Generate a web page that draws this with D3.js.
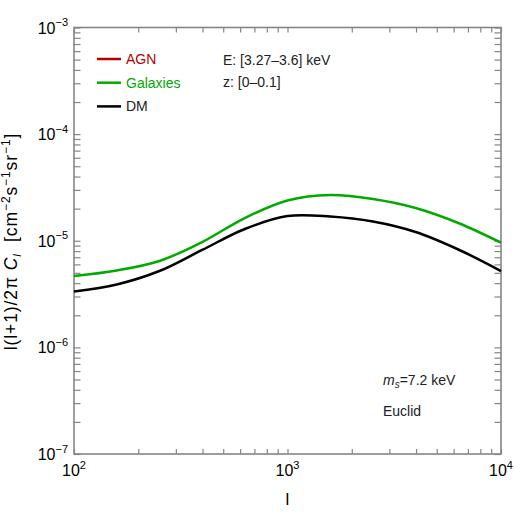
<!DOCTYPE html>
<html><head><meta charset="utf-8">
<script src="https://cdn.jsdelivr.net/npm/d3@7"></script>
<style>
body{margin:0;background:#fff;}
text{font-family:"Liberation Sans",Arial,Helvetica,sans-serif;}
</style></head>
<body><svg id="chart" width="515" height="515"></svg>
<script>
// ---- data ----
const ell = [100, 158.5, 251.2, 398.1, 631, 1000, 1585, 2512, 3981, 6310, 10000];
const galaxies = [4.67e-6, 5.26e-6, 6.46e-6, 9.73e-6, 1.634e-5, 2.385e-5, 2.686e-5, 2.464e-5, 2.029e-5, 1.467e-5, 9.59e-6];
const dm = [3.34e-6, 3.89e-6, 5.20e-6, 8.19e-6, 1.289e-5, 1.706e-5, 1.688e-5, 1.515e-5, 1.208e-5, 8.28e-6, 5.20e-6];
const legendNames = ["AGN", "Galaxies", "DM"];
const legendColors = ["#b40000", "#00aa00", "#000000"];
const xMajor = [100, 1000, 10000];
const xMajorExp = ["2", "3", "4"];
const yMajor = [1e-7, 1e-6, 1e-5, 1e-4, 1e-3];
const yMajorExp = ["−7", "−6", "−5", "−4", "−3"];
const infoLines = ["E: [3.27–3.6] keV", "z: [0–0.1]"];

// ---- layout ----
const L = 74, R = 501, T = 27.5, B = 454;
const svg = d3.select("#chart");
const x = d3.scaleLog().domain([100, 10000]).range([L, R]);
const y = d3.scaleLog().domain([1e-7, 1e-3]).range([B, T]);
const frame = "#858585";

// minor ticks
const xMinor = [], yMinor = [];
[100, 1000].forEach(d => { for (let k = 2; k <= 9; k++) xMinor.push(d * k); });
[1e-7, 1e-6, 1e-5, 1e-4].forEach(d => { for (let k = 2; k <= 9; k++) yMinor.push(d * k); });
const xt = xMajor.concat(xMinor), yt = yMajor.concat(yMinor);

const g = svg.append("g");
g.append("g").attr("transform", `translate(0,${B})`)
  .call(d3.axisTop(x).tickValues(xt).tickSize(5).tickFormat(""));
g.append("g").attr("transform", `translate(0,${T})`)
  .call(d3.axisBottom(x).tickValues(xt).tickSize(5).tickFormat(""));
g.append("g").attr("transform", `translate(${L},0)`)
  .call(d3.axisRight(y).tickValues(yt).tickSize(6.5).tickFormat(""));
g.append("g").attr("transform", `translate(${R},0)`)
  .call(d3.axisLeft(y).tickValues(yt).tickSize(6.5).tickFormat(""));
g.selectAll(".domain").remove();
g.selectAll(".tick line").attr("stroke", frame).attr("stroke-width", 1.2);
svg.append("rect").attr("x", L).attr("y", T).attr("width", R - L).attr("height", B - T)
  .attr("fill", "none").attr("stroke", frame).attr("stroke-width", 1.6);

// tick labels
const xl = svg.append("g");
xMajor.forEach((v, i) => {
  const t = xl.append("text").attr("x", x(v)).attr("y", 476).attr("text-anchor", "middle")
    .attr("font-size", 16);
  t.append("tspan").text("10");
  t.append("tspan").attr("font-size", 11).attr("dy", -7).text(xMajorExp[i]);
});
yMajor.forEach((v, i) => {
  const t = xl.append("text").attr("x", 68).attr("y", y(v) + 6).attr("text-anchor", "end")
    .attr("font-size", 16);
  t.append("tspan").text("10");
  t.append("tspan").attr("font-size", 11).attr("dy", -7.5).text(yMajorExp[i]);
});

// axis titles
svg.append("text").attr("x", (L + R) / 2).attr("y", 505).attr("text-anchor", "middle")
  .attr("font-size", 17).text("l");
const yt2 = svg.append("text").attr("transform", `translate(17,${(130 + 353) / 2}) rotate(-90)`)
  .attr("text-anchor", "middle").attr("font-size", 17.5).attr("letter-spacing", 0.9);
yt2.append("tspan").text("l(l+1)/2π ");
yt2.append("tspan").attr("font-style", "italic").text("C");
yt2.append("tspan").attr("font-style", "italic").attr("font-size", 11).attr("dy", 4).text("l");
yt2.append("tspan").attr("dy", -4).text("\u00a0\u00a0[cm");
yt2.append("tspan").attr("font-size", 12).attr("dy", -7).text("−2");
yt2.append("tspan").attr("dy", 7).text("s");
yt2.append("tspan").attr("font-size", 12).attr("dy", -7).text("−1");
yt2.append("tspan").attr("dy", 7).text("sr");
yt2.append("tspan").attr("font-size", 12).attr("dy", -7).text("−1");
yt2.append("tspan").attr("dy", 7).text("]");

// curves
const line = d3.line().x(d => x(d[0])).y(d => y(d[1])).curve(d3.curveCatmullRom.alpha(0.5));
const plot = svg.append("g");
plot.append("path").datum(ell.map((l, i) => [l, galaxies[i]])).attr("d", line)
  .attr("fill", "none").attr("stroke", legendColors[1]).attr("stroke-width", 2.5);
plot.append("path").datum(ell.map((l, i) => [l, dm[i]])).attr("d", line)
  .attr("fill", "none").attr("stroke", legendColors[2]).attr("stroke-width", 2.5);

// legend
const legY = [64, 87.7, 111.4];
legendNames.forEach((n, i) => {
  svg.append("line").attr("x1", 97).attr("x2", 121).attr("y1", legY[i] - 5).attr("y2", legY[i] - 5)
    .attr("stroke", legendColors[i]).attr("stroke-width", 2.5);
  svg.append("text").attr("x", 126).attr("y", legY[i]).attr("font-size", 14)
    .attr("fill", i === 2 ? "#222" : legendColors[i]).text(n);
});

// info text
infoLines.forEach((s, i) => {
  svg.append("text").attr("x", 223).attr("y", [65, 87][i]).attr("font-size", 14)
    .attr("fill", "#222").attr("xml:space", "preserve").text(s);
});
const ms = svg.append("text").attr("x", 383).attr("y", 385).attr("font-size", 14).attr("fill", "#222");
ms.append("tspan").attr("font-style", "italic").text("m");
ms.append("tspan").attr("font-style", "italic").attr("font-size", 10).attr("dy", 3).text("s");
ms.append("tspan").attr("dy", -3).text("=7.2 keV");
svg.append("text").attr("x", 383).attr("y", 416).attr("font-size", 14).attr("fill", "#222").text("Euclid");
</script></body></html>
